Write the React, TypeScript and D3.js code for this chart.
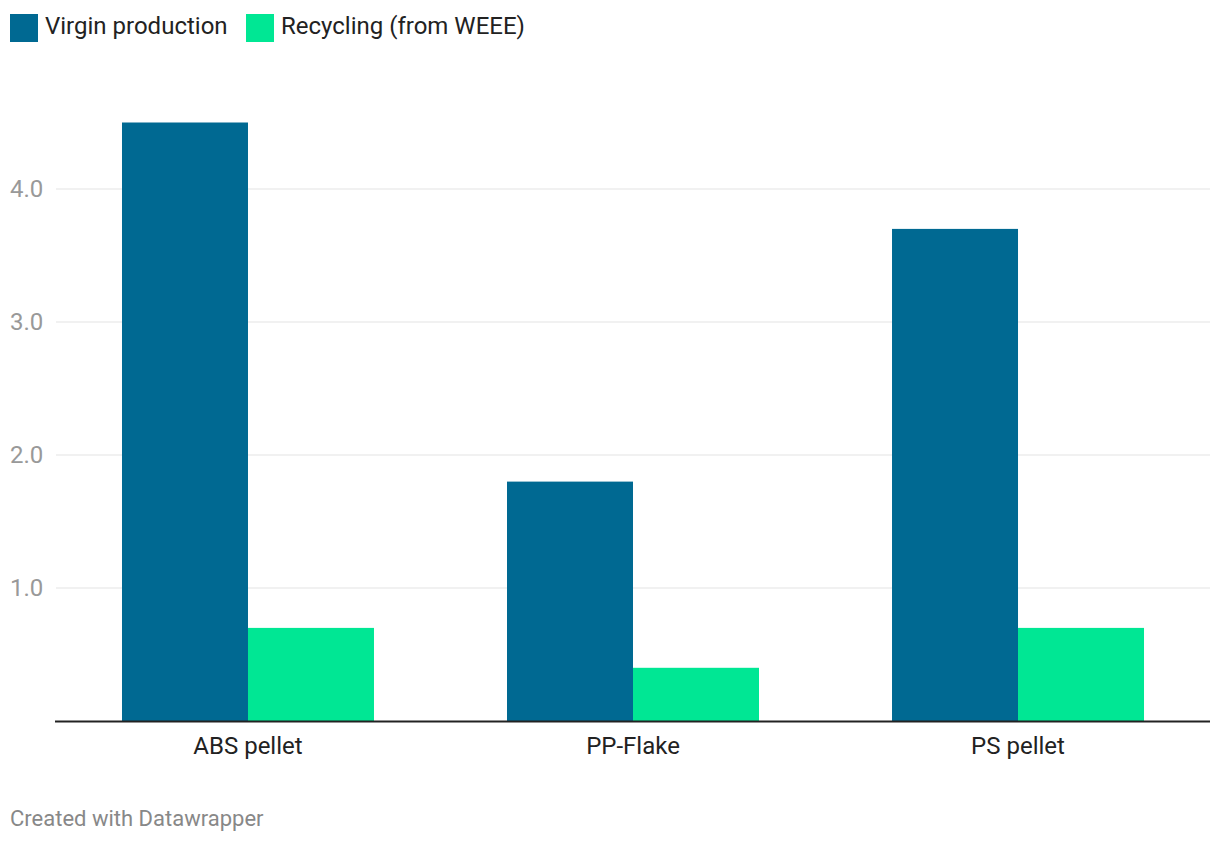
import React from "react";
import * as d3 from "d3";

const categories = ["ABS pellet", "PP-Flake", "PS pellet"];
const seriesNames = ["Virgin production", "Recycling (from WEEE)"];
const virgin = [4.5, 1.8, 3.7];
const recycling = [0.7, 0.4, 0.7];
const yTicks = [1, 2, 3, 4];
const colors = ["#006992", "#00e794"];

export default function App() {
  const W = 1220, H = 844;
  const x0 = d3.scaleBand<string>().domain(categories).range([55.5, 1210.5]).paddingInner(0.3455).paddingOuter(0.1727);
  const x1 = d3.scaleBand<string>().domain(seriesNames).range([0, x0.bandwidth()]).padding(0);
  const y = d3.scaleLinear().domain([0, 4]).range([721, 189]);
  const series = [virgin, recycling];
  const font = "Roboto, sans-serif";
  return (
    <svg width={W} height={H} style={{ position: "absolute", left: 0, top: 0, background: "#fff" }} fontFamily={font}>
      {/* legend */}
      <g>
        <rect x={10} y={14} width={28} height={28} fill={colors[0]} />
        <text x={45} y={34} fontSize={24} fill="#222">{seriesNames[0]}</text>
        <rect x={246} y={14} width={28} height={28} fill={colors[1]} />
        <text x={281} y={34} fontSize={24} fill="#222">{seriesNames[1]}</text>
      </g>
      {/* gridlines */}
      {yTicks.map((t) => (
        <g key={t}>
          <line x1={56} x2={1210} y1={y(t)} y2={y(t)} stroke="#e3e3e3" strokeWidth={1} />
          <text x={10} y={y(t) + 8} fontSize={24} fill="#999">{d3.format(".1f")(t)}</text>
        </g>
      ))}
      {/* bars */}
      {categories.map((c, i) => (
        <g key={c} transform={`translate(${x0(c)},0)`}>
          {seriesNames.map((s, j) => (
            <rect key={s} x={x1(s)} y={y(series[j][i])} width={x1.bandwidth()} height={y(0) - y(series[j][i])} fill={colors[j]} />
          ))}
        </g>
      ))}
      <line x1={55} x2={1210} y1={721.5} y2={721.5} stroke="#222" strokeWidth={2} />
      {categories.map((c) => (
        <text key={c} x={(x0(c) ?? 0) + x0.bandwidth() / 2} y={754} fontSize={24} fill="#222" textAnchor="middle">{c}</text>
      ))}
      <text x={10} y={826} fontSize={22} fill="#888">Created with Datawrapper</text>
    </svg>
  );
}
